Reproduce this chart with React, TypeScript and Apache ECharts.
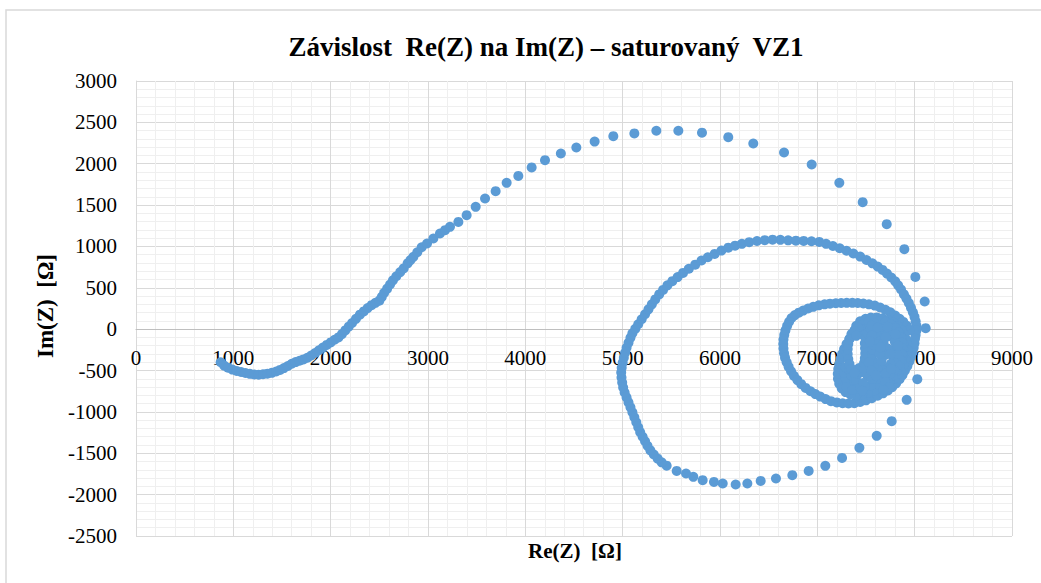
import React, { useEffect, useRef } from "react";
import * as echarts from "echarts";

const TITLE = "Závislost  Re(Z) na Im(Z) – saturovaný  VZ1";
const X_NAME = "Re(Z)  [Ω]";
const Y_NAME = "Im(Z)  [Ω]";
const X_MIN = 0, X_MAX = 9000, X_STEP = 1000;
const Y_MIN = -2500, Y_MAX = 3000, Y_STEP = 500;

// start of the curve (dense)
const startCurve: [number, number][] = [
  [870,-400],[905,-440],[945,-465],[990,-488],[1035,-505],[1080,-518],[1125,-530],[1170,-540],[1215,-548],[1260,-550],
  [1305,-545],[1350,-538],[1395,-528],[1440,-512],[1480,-492],[1520,-470],[1560,-445],[1600,-418],[1640,-398],[1680,-382],
  [1720,-365],[1760,-345],[1800,-318],[1840,-288],[1880,-255],[1920,-222],[1960,-190],[2000,-160],[2040,-128],[2080,-100],
  [2115,-60],[2150,-15],[2185,30],[2220,75],[2260,125],[2300,175],[2340,215],[2380,255],[2420,290],[2460,318],
  [2500,345],[2525,390],[2550,440],[2580,490],[2610,540],[2640,590],[2675,640],[2715,690],[2750,735],[2790,795],
  [2820,835],[2850,875],[2890,930],[2935,990],[2990,1036],[3055,1096],[3123,1157],[3175,1197],[3226,1237],
];

// sparse outer arc
const outerArc: [number, number][] = [
  [3312,1297],[3397,1378],[3490,1479],[3586,1580],[3695,1668],[3808,1769],[3928,1853],[4065,1955],[4202,2043],[4365,2124],
  [4524,2196],[4712,2268],[4904,2333],[5120,2366],[5346,2399],[5572,2399],[5815,2375],[6085,2321],[6342,2245],[6658,2136],
  [6942,1991],[7226,1769],[7466,1535],[7713,1269],[7894,967],[8007,632],[8103,335],[8113,12],[8027,-604],[7918,-854],
  [7764,-1112],[7610,-1289],[7432,-1434],[7254,-1556],[7082,-1652],[6911,-1713],[6743,-1765],[6575,-1805],[6418,-1834],[6281,-1865],
  [6161,-1877],[6028,-1865],[5938,-1846],[5822,-1825],[5726,-1785],[5651,-1745],[5555,-1713],
];

// inner arc, dense: left side up, top, right side down
const innerArc: [number, number][] = [
  [5452,-1650],[5400,-1610],[5360,-1565],[5320,-1515],[5285,-1465],[5255,-1410],[5230,-1355],[5205,-1300],[5180,-1245],[5160,-1185],
  [5140,-1125],[5120,-1065],[5100,-1005],[5080,-945],[5060,-885],[5040,-825],[5020,-765],[5005,-705],[4995,-645],[4988,-585],
  [4985,-525],[4990,-465],[5000,-405],[5012,-345],[5025,-285],[5040,-225],[5060,-165],[5080,-105],[5100,-50],[5130,5],
  [5160,60],[5195,120],[5230,180],[5265,240],[5300,300],[5335,360],[5375,420],[5415,475],[5460,530],[5510,580],
  [5565,630],[5620,680],[5680,730],[5745,780],[5810,830],[5875,870],[5945,910],[6015,950],[6085,985],[6155,1010],
  [6225,1032],[6300,1052],[6380,1066],[6460,1076],[6540,1082],[6620,1080],[6700,1074],[6780,1070],[6860,1067],[6940,1063],
  [7020,1055],[7090,1032],[7160,1005],[7230,978],[7300,948],[7370,915],[7440,878],[7505,836],[7565,796],[7620,757],
  [7670,716],[7715,672],[7760,625],[7800,578],[7830,530],[7860,480],[7890,420],[7915,370],[7940,315],[7962,260],
  [7982,205],[7998,150],[8010,95],[8018,40],[8018,-15],[8010,-70],
];

// second loop
const loopTwo: [number, number][] = [
  [7952,-12],[7920,40],[7884,88],[7845,125],[7800,165],[7750,205],[7700,235],[7645,262],[7590,285],[7530,300],
  [7473,310],[7415,316],[7360,318],[7302,318],[7245,316],[7190,313],[7130,308],[7075,300],[7015,288],[6958,270],
  [6905,250],[6855,225],[6810,200],[6770,170],[6735,135],[6710,90],[6690,40],[6672,-15],[6660,-70],[6652,-125],
  [6650,-180],[6652,-235],[6658,-290],[6668,-345],[6685,-400],[6705,-455],[6730,-510],[6760,-565],[6795,-615],[6835,-665],
  [6880,-710],[6930,-750],[6980,-785],[7030,-815],[7085,-845],[7140,-870],[7200,-885],[7260,-895],[7320,-898],[7380,-895],
  [7440,-880],[7500,-860],[7560,-835],[7620,-805],[7675,-775],[7725,-740],[7770,-700],[7810,-655],[7845,-605],[7875,-555],
  [7900,-500],[7925,-445],[7945,-390],[7962,-335],[7978,-280],[7990,-225],[7998,-170],[8003,-115],
];

// central cluster rings
const clusterOuter: [number, number][] = [
  [7400,40],[7440,95],[7495,125],[7550,140],[7610,142],[7670,132],[7725,110],[7780,78],[7830,35],[7868,-15],
  [7897,-70],[7915,-130],[7925,-190],[7925,-250],[7918,-310],[7905,-370],[7885,-430],[7858,-490],[7825,-545],[7785,-595],
  [7740,-640],[7690,-680],[7635,-715],[7580,-745],[7520,-770],[7460,-790],[7400,-800],[7340,-790],[7290,-760],[7250,-715],
  [7225,-660],[7212,-600],[7210,-540],[7215,-480],[7225,-420],[7238,-360],[7255,-300],[7275,-240],[7300,-180],[7330,-120],
  [7360,-60],[7385,-10],
];
const clusterSecond: [number, number][] = [
  [7470,60],[7530,95],[7590,108],[7650,100],[7710,80],[7765,45],[7810,0],[7845,-55],[7870,-115],[7882,-180],
  [7885,-245],[7880,-310],[7868,-380],[7848,-445],[7815,-505],[7775,-560],[7725,-605],[7670,-640],[7610,-665],[7550,-680],
  [7490,-690],[7430,-700],[7370,-690],[7320,-650],[7290,-590],[7275,-525],[7290,-460],[7330,-500],[7350,-560],[7400,-620],
  [7420,-540],[7430,-470],[7420,-40],[7450,0],[7465,-65],[7420,20],
];
const clusterCrescent: [number, number][] = [
  [7350,-60],[7330,-120],[7318,-180],[7312,-240],[7312,-300],[7318,-360],[7330,-420],[7350,-480],[7380,-530],
  [7380,-20],[7400,-80],
];
const clusterMiddle: [number, number][] = [
  [7640,100],[7700,90],[7755,60],[7800,15],[7835,-40],[7858,-100],[7870,-165],[7872,-230],[7865,-300],[7850,-370],
  [7825,-435],[7790,-495],[7745,-545],[7690,-580],[7630,-600],[7570,-600],[7520,-575],[7490,-530],[7478,-470],[7480,-410],
  [7488,-350],[7492,-290],[7490,-230],[7488,-170],[7495,-110],[7515,-50],[7545,10],[7585,70],
];
const clusterInner: [number, number][] = [
  [7680,-20],[7730,-40],[7770,-90],[7795,-150],[7805,-220],[7800,-290],[7785,-360],[7755,-420],[7715,-465],[7665,-485],
  [7615,-475],[7580,-430],[7565,-370],[7562,-310],[7568,-250],[7580,-190],[7600,-130],[7635,-70],
  [7680,-160],[7720,-230],[7700,-310],[7660,-380],[7640,-300],[7650,-220],[7600,-40],[7560,-80],[7540,-150],[7530,-400],[7555,-500],
  [7700,-540],[7600,-560],[7760,-480],[7820,-300],[7830,-200],[7800,-60],[7720,30],[7560,40],[7620,20],[7700,-100],[7750,-300],
];
const clusterBottom: [number, number][] = [
  [7300,-700],[7360,-735],[7440,-700],[7470,-650],[7700,-640],[7740,-700],[7680,-735],[7460,-745],
];

const FONT = "'Liberation Serif', 'Times New Roman', serif";

export default function App() {
  const ref = useRef<HTMLDivElement>(null);
  useEffect(() => {
    document.body.style.margin = "0";
    const chart = echarts.init(ref.current!, undefined, { renderer: "svg" });
    const data = [
      ...startCurve, ...outerArc, ...innerArc, ...loopTwo,
      ...clusterOuter, ...clusterSecond, ...clusterCrescent, ...clusterMiddle, ...clusterInner, ...clusterBottom,
    ];
    chart.setOption({
      animation: false,
      backgroundColor: "#ffffff",
      title: {
        text: TITLE,
        left: 541,
        top: 28,
        textAlign: "center",
        textStyle: { fontFamily: FONT, fontSize: 27, fontWeight: "bold", color: "#000" },
      },
      grid: { left: 136, top: 81, width: 876, height: 455, containLabel: false },
      xAxis: {
        type: "value",
        min: X_MIN, max: X_MAX, interval: X_STEP,
        offset: -207,
        axisLine: { show: true, onZero: false, lineStyle: { color: "#bfbfbf", width: 1 } },
        axisTick: { show: false },
        axisLabel: { fontFamily: FONT, fontSize: 21, color: "#000", margin: 18, formatter: (v: number) => String(v) },
        splitLine: { show: true, lineStyle: { color: "#d9d9d9", width: 1 } },
        minorTick: { show: false, splitNumber: 5 },
        minorSplitLine: { show: true, lineStyle: { color: "#efefef", width: 1 } },
      },
      yAxis: {
        type: "value",
        min: Y_MIN, max: Y_MAX, interval: Y_STEP,
        axisLine: { show: true, onZero: false, lineStyle: { color: "#d9d9d9", width: 1 } },
        axisTick: { show: false },
        axisLabel: { fontFamily: FONT, fontSize: 21, color: "#000", margin: 19, formatter: (v: number) => String(v) },
        splitLine: { show: true, lineStyle: { color: "#d9d9d9", width: 1 } },
        minorTick: { show: false, splitNumber: 5 },
        minorSplitLine: { show: true, lineStyle: { color: "#efefef", width: 1 } },
      },
      graphic: [
        {
          type: "rect",
          shape: { x: 6, y: 10, width: 1200, height: 800 },
          style: { fill: "none", stroke: "#d9d9d9", lineWidth: 1.5 },
          silent: true,
        },
        {
          type: "text",
          x: 575, y: 551,
          style: { text: X_NAME, font: `bold 21px ${FONT}`, fill: "#000", align: "center", verticalAlign: "middle" },
        },
        {
          type: "text",
          x: 45, y: 306, rotation: Math.PI / 2,
          style: { text: Y_NAME, font: `bold 23px ${FONT}`, fill: "#000", align: "center", verticalAlign: "middle" },
        },
      ],
      series: [
        {
          type: "scatter",
          data,
          symbol: "circle",
          symbolSize: 10,
          itemStyle: { color: "#5B9BD5", opacity: 1 },
        },
      ],
    });
    return () => chart.dispose();
  }, []);
  return <div ref={ref} style={{ width: 1041, height: 583 }} />;
}
